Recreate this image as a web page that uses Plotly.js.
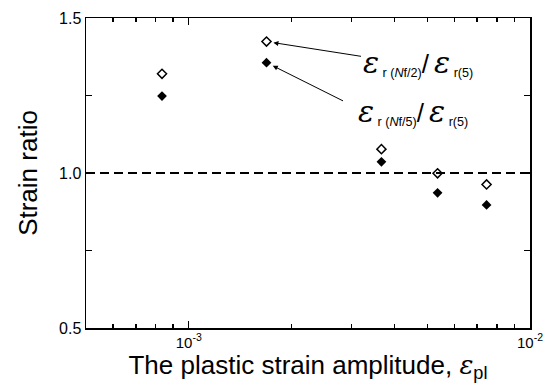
<!DOCTYPE html>
<html><head><meta charset="utf-8">
<script src="https://cdn.plot.ly/plotly-3.0.1.min.js"></script>
<style>body{margin:0;background:#fff}#chart{width:550px;height:383px}</style>
</head><body><div id="chart"></div>
<script>
// Data
const strainAmp = [8.35e-4, 1.69e-3, 3.67e-3, 5.36e-3, 7.46e-3];
const ratioHalf = [1.320, 1.424, 1.077, 0.999, 0.963];   // eps_r(Nf/2)/eps_r(5), open diamonds
const ratioFifth = [1.248, 1.356, 1.036, 0.936, 0.897];  // eps_r(Nf/5)/eps_r(5), filled diamonds
const xMajorTicks = [1e-3, 1e-2];
const xMajorLabels = ['10<sup>-3</sup>', '10<sup>-2</sup>'];
const xMinorTicks = [6e-4, 7e-4, 8e-4, 9e-4, 2e-3, 3e-3, 4e-3, 5e-3, 6e-3, 7e-3, 8e-3, 9e-3];
const yTicks = [0.5, 0.75, 1.0, 1.25, 1.5];
const yLabels = ['0.5', '', '1.0', '', '1.5'];
const refLevel = 1.0;

const font = 'Liberation Sans, Arial, sans-serif';

const traces = [
  {x: strainAmp, y: ratioHalf, type: 'scatter', mode: 'markers', name: 'Nf/2',
   marker: {symbol: 'diamond-open', size: 7, color: '#000', line: {width: 1.5, color: '#000'}}},
  {x: strainAmp, y: ratioFifth, type: 'scatter', mode: 'markers', name: 'Nf/5',
   marker: {symbol: 'diamond', size: 7.5, color: '#000', line: {width: 0}}}
];

const eps = '<span style="font-size:30px;font-family:DejaVu Serif;font-style:italic">ε</span>';
const epsSmall = '<span style="font-family:DejaVu Serif;font-style:italic">ε</span>';
const layout = {
  width: 550, height: 383,
  margin: {l: 86, r: 20, t: 18, b: 55},
  paper_bgcolor: '#fff', plot_bgcolor: '#fff',
  showlegend: false,
  font: {family: font, color: '#000'},
  xaxis: {
    type: 'log', range: [Math.log10(5e-4), -2],
    tickmode: 'array', tickvals: xMajorTicks, ticktext: xMajorLabels,
    ticks: 'inside', ticklen: 7, tickwidth: 1.3, tickcolor: '#000',
    minor: {tickmode: 'array', tickvals: xMinorTicks, ticks: 'inside', ticklen: 4, tickwidth: 1.3, tickcolor: '#000', showgrid: false},
    showline: true, linewidth: 1.5, linecolor: '#000', mirror: 'ticks',
    showgrid: false, zeroline: false,
    tickfont: {size: 15, family: font},
    title: {text: 'The plastic strain amplitude, ' + epsSmall + '<sub>pl</sub>', font: {size: 26, family: font}, standoff: 5}
  },
  yaxis: {
    range: [0.5, 1.5],
    tickmode: 'array', tickvals: yTicks, ticktext: yLabels,
    ticks: 'inside', ticklen: 6, tickwidth: 1.3, tickcolor: '#000',
    showline: true, linewidth: 1.5, linecolor: '#000', mirror: 'ticks',
    showgrid: false, zeroline: false,
    tickfont: {size: 16, family: font},
    title: {text: 'Strain ratio', font: {size: 26, family: font}, standoff: 14}
  },
  shapes: [
    {type: 'line', xref: 'paper', yref: 'y', x0: 0, x1: 1, y0: refLevel, y1: refLevel,
     line: {color: '#000', width: 2, dash: '9px,5px'}}
  ],
  annotations: [
    {x: Math.log10(strainAmp[1]), y: ratioHalf[1], xref: 'x', yref: 'y', text: '',
     showarrow: true, arrowhead: 2, arrowsize: 1, arrowwidth: 1, arrowcolor: '#000',
     ax: 96, ay: 15, standoff: 7},
    {x: Math.log10(strainAmp[1]), y: ratioFifth[1], xref: 'x', yref: 'y', text: '',
     showarrow: true, arrowhead: 2, arrowsize: 1, arrowwidth: 1, arrowcolor: '#000',
     ax: 78, ay: 39, standoff: 7},
    {xref: 'paper', yref: 'paper', x: 0.62, y: 0.855, xanchor: 'left', yanchor: 'middle',
     showarrow: false, font: {size: 18, family: font},
     text: eps + '<sub> r (<i>N</i>f/2)</sub><span style="font-size:26px">/</span> ' + eps + '<sub> r(5)</sub>'},
    {xref: 'paper', yref: 'paper', x: 0.607, y: 0.70, xanchor: 'left', yanchor: 'middle',
     showarrow: false, font: {size: 18, family: font},
     text: eps + '<sub> r (<i>N</i>f/5)</sub><span style="font-size:26px">/</span> ' + eps + '<sub> r(5)</sub>'}
  ]
};

Plotly.newPlot('chart', traces, layout, {displayModeBar: false, staticPlot: true});
</script>
</body></html>
